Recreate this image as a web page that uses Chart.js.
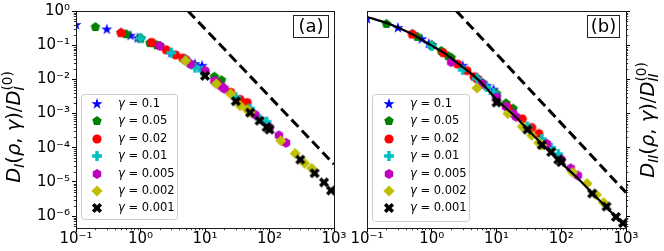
<!DOCTYPE html>
<html>
<head>
<meta charset="utf-8">
<script src="https://cdn.jsdelivr.net/npm/chart.js@4.4.1/dist/chart.umd.min.js"></script>
<style>
  html, body { margin: 0; padding: 0; background: #fff; }
  #wrap { position: relative; width: 664px; height: 251px; overflow: hidden; }
  #wrap canvas { position: absolute; left: 0; top: 0; }
</style>
</head>
<body>
<div id="wrap">
  <canvas id="chartA" width="664" height="251" style="width:664px;height:251px"></canvas>
  <canvas id="chartB" width="664" height="251" style="width:664px;height:251px"></canvas>
</div>
<script>
// x = rho / gamma for every gamma series
const xG01   = [0.1, 0.3, 0.5, 0.7, 0.9, 1, 3, 5, 7, 9];
const xG005  = [0.2, 0.6, 1, 1.4, 1.8, 2, 6, 10, 14, 18];
const xG002  = [0.5, 1.5, 2.5, 3.5, 4.5, 5, 15, 25, 35, 45];
const xG001  = [1, 3, 5, 7, 9, 10, 30, 50, 70, 90];
const xG0005 = [2, 6, 10, 14, 18, 20, 60, 100, 140, 180];
const xG0002 = [5, 15, 25, 35, 45, 50, 150, 250, 350, 450];
const xG0001 = [10, 30, 50, 70, 90, 100, 300, 500, 700, 900];

// panel (a): D_I / D_I^(0)
const aG01   = [0.39, 0.29, 0.23, 0.19, 0.16, 0.155, 0.06, 0.038, 0.028, 0.025];
const aG005  = [0.34, 0.21, 0.16, 0.115, 0.1, 0.095, 0.028, 0.017, 0.012, 0.0095];
const aG002  = [0.23, 0.12, 0.073, 0.052, 0.042, 0.038, 0.008, 0.0042, 0.0026, 0.0021];
const aG001  = [0.16, 0.06, 0.036, 0.022, 0.018, 0.016, 0.003, 0.0014, 0.0007, 0.00058];
const aG0005 = [0.095, 0.028, 0.018, 0.009, 0.0062, 0.0053, 0.00093, 0.00039, 0.00023, 0.00014];
const aG0002 = [0.035, 0.0074, 0.0038, 0.0017, 0.0013, 0.0011, 0.00016, 0.000068, 0.000035, 0.000025];
const aG0001 = [0.0127, 0.0023, 0.00107, 0.00062, 0.0004, 0.00034, 0.000045, 0.000018, 0.0000097, 0.0000056];

// panel (b): D_II / D_II^(0)
const bG01   = [0.58, 0.32, 0.21, 0.15, 0.11, 0.1, 0.025, 0.011, 0.0065, 0.005];
const bG005  = [0.42, 0.175, 0.1, 0.068, 0.048, 0.043, 0.008, 0.0038, 0.002, 0.0014];
const bG002  = [0.21, 0.06, 0.028, 0.018, 0.012, 0.0105, 0.0015, 0.0007, 0.00039, 0.00026];
const bG001  = [0.095, 0.019, 0.0105, 0.006, 0.004, 0.0033, 0.00042, 0.00018, 0.0001, 0.000065];
const bG0005 = [0.032, 0.0075, 0.003, 0.0016, 0.001, 0.00081, 0.00013, 0.000045, 0.000025, 0.0000155];
const bG0002 = [0.0056, 0.001, 0.00042, 0.00023, 0.00014, 0.00012, 0.000019, 0.000009, 0.0000042, 0.0000025];
const bG0001 = [0.0021, 0.00034, 0.00012, 0.000075, 0.000045, 0.000038, 0.0000046, 0.0000019, 0.00000095, 0.00000063];

// solid theory curve in (b)
const curveX = [0.1, 0.2, 0.3, 0.5, 0.7, 1, 1.5, 2, 3, 5, 7, 10, 20, 30, 50, 70, 100, 200, 300, 500, 700, 1000];
const curveY = [0.67, 0.45, 0.33, 0.21, 0.145, 0.097, 0.062, 0.042, 0.023, 0.0105, 0.0055, 0.0026, 0.00078, 0.00035, 0.00013, 0.000068, 0.000036, 0.0000105, 0.0000047, 0.0000018, 0.00000093, 0.0000005];

// dashed guide lines
const dashAX = [5.45, 1000];
const dashAY = [1, 0.000033];
const dashBX = [2.4, 1000];
const dashBY = [1, 0.0000049];

const gammaLabels = ['0.1', '0.05', '0.02', '0.01', '0.005', '0.002', '0.001'];
const xTickValues = [0.1, 1, 10, 100, 1000];
const xTickLabels = ['10⁻¹', '10⁰', '10¹', '10²', '10³'];
const yTickValues = [1e-6, 1e-5, 1e-4, 1e-3, 1e-2, 1e-1, 1];
const yTickLabels = ['10⁻⁶', '10⁻⁵', '10⁻⁴', '10⁻³', '10⁻²', '10⁻¹', '10⁰'];

const FONT = 'DejaVu Sans';
Chart.defaults.font.family = FONT;
Chart.defaults.color = '#000';

const colors = ['#0000ff', '#008000', '#ff0000', '#00bfbf', '#bf00bf', '#bfbf00', '#000000'];
const shapes = ['star', 'pentagon', 'circle', 'plus', 'hexagon', 'diamond', 'x'];

function poly(g, n, r, rot) {
  for (let i = 0; i < n; i++) {
    const a = rot + i * 2 * Math.PI / n;
    i ? g.lineTo(r * Math.cos(a), r * Math.sin(a)) : g.moveTo(r * Math.cos(a), r * Math.sin(a));
  }
}

function crossPath(g, L, w) {
  g.moveTo(-w, -L); g.lineTo(w, -L); g.lineTo(w, -w); g.lineTo(L, -w); g.lineTo(L, w);
  g.lineTo(w, w); g.lineTo(w, L); g.lineTo(-w, L); g.lineTo(-w, w); g.lineTo(-L, w);
  g.lineTo(-L, -w); g.lineTo(-w, -w);
}

function makeMarker(kind, color) {
  const s = 16;
  const c = document.createElement('canvas');
  c.width = s; c.height = s;
  const g = c.getContext('2d');
  g.translate(s / 2, s / 2);
  g.fillStyle = color;
  g.beginPath();
  if (kind === 'star') {
    for (let i = 0; i < 10; i++) {
      const r = i % 2 ? 2.3 : 5.9;
      const a = -Math.PI / 2 + i * Math.PI / 5;
      i ? g.lineTo(r * Math.cos(a), r * Math.sin(a)) : g.moveTo(r * Math.cos(a), r * Math.sin(a));
    }
  } else if (kind === 'pentagon') {
    poly(g, 5, 5, -Math.PI / 2);
  } else if (kind === 'circle') {
    g.arc(0, 0, 4.6, 0, 2 * Math.PI);
  } else if (kind === 'hexagon') {
    poly(g, 6, 4.9, -Math.PI / 2);
  } else if (kind === 'diamond') {
    poly(g, 4, 5.6, -Math.PI / 2);
  } else if (kind === 'plus') {
    crossPath(g, 4.9, 1.7);
  } else if (kind === 'x') {
    g.rotate(Math.PI / 4);
    crossPath(g, 5.4, 1.8);
  }
  g.closePath();
  g.fill();
  return c;
}

const markers = shapes.map((k, i) => makeMarker(k, colors[i]));

function pts(xs, ys) { return xs.map((x, i) => ({ x: x, y: ys[i] })); }

// rich text (mathtext-like) helpers
function segFont(s, F) {
  const size = (s.sub || s.sup) ? F * 0.7 : F;
  return (s.it ? 'italic ' : '') + size + 'px "' + FONT + '"';
}
function richWidth(ctx, segs, F) {
  let w = 0;
  segs.forEach(s => { ctx.font = segFont(s, F); if (!s.noAdv) w += ctx.measureText(s.t).width; });
  return w;
}
function drawRich(ctx, segs, F, x, y) {
  let cx = x;
  segs.forEach(s => {
    ctx.font = segFont(s, F);
    const dy = s.sub ? F * 0.22 : (s.sup ? -F * 0.42 : 0);
    ctx.fillText(s.t, cx, y + dy);
    if (!s.noAdv) cx += ctx.measureText(s.t).width;
  });
}

function titleSegs(idx) {
  return [
    { t: 'D', it: true }, { t: idx, it: true, sub: true },
    { t: '(' }, { t: 'ρ', it: true }, { t: ', ' }, { t: 'γ', it: true }, { t: ')/' },
    { t: 'D', it: true }, { t: idx, it: true, sub: true, noAdv: true }, { t: '(0)', sup: true }
  ];
}

const decorPlugin = {
  id: 'decor',
  afterDraw(chart, args, o) {
    const ctx = chart.ctx, ca = chart.chartArea;
    const xs = chart.scales.x, ys = chart.scales.y;
    ctx.save();
    // minor ticks
    ctx.strokeStyle = '#000';
    ctx.lineWidth = 0.8;
    for (let d = -1; d < 3; d++) {
      for (let k = 2; k < 10; k++) {
        const px = Math.round(xs.getPixelForValue(k * Math.pow(10, d))) + 0.5;
        ctx.beginPath(); ctx.moveTo(px, ca.bottom); ctx.lineTo(px, ca.bottom + 2.2); ctx.stroke();
      }
    }
    for (let d = -7; d < 0; d++) {
      for (let k = 2; k < 10; k++) {
        const v = k * Math.pow(10, d);
        if (v < ys.min || v > ys.max) continue;
        const py = Math.round(ys.getPixelForValue(v)) + 0.5;
        const x0 = o.side === 'left' ? ca.left : ca.right;
        const dir = o.side === 'left' ? -1 : 1;
        ctx.beginPath(); ctx.moveTo(x0, py); ctx.lineTo(x0 + dir * 2.2, py); ctx.stroke();
      }
    }
    // frame
    ctx.strokeStyle = '#1a1a1a';
    ctx.lineWidth = 1;
    ctx.strokeRect(Math.round(ca.left) + 0.5, Math.round(ca.top) + 0.5,
      Math.round(ca.right - ca.left), Math.round(ca.bottom - ca.top));

    // legend
    const L = o.legend;
    ctx.beginPath();
    ctx.roundRect(L.x + 0.5, L.y + 0.5, L.w, L.h, 3);
    ctx.fillStyle = 'rgba(255,255,255,0.85)';
    ctx.fill();
    ctx.strokeStyle = '#cccccc';
    ctx.stroke();
    ctx.textBaseline = 'middle';
    ctx.fillStyle = '#000';
    gammaLabels.forEach((lab, i) => {
      const y = L.row0 + i * L.dy;
      ctx.drawImage(markers[i], Math.round(L.mx - 8), Math.round(y - 8));
      ctx.font = 'italic 11.5px "' + FONT + '"';
      ctx.fillText('γ', L.tx, y);
      const gw = ctx.measureText('γ').width;
      ctx.font = '11.5px "' + FONT + '"';
      ctx.fillText(' = ' + lab, L.tx + gw, y);
    });

    // panel tag
    const P = o.tag;
    ctx.fillStyle = '#fff';
    ctx.fillRect(P.x, P.y, P.w, P.h);
    ctx.strokeStyle = '#222';
    ctx.strokeRect(P.x + 0.5, P.y + 0.5, P.w, P.h);
    ctx.fillStyle = '#000';
    ctx.font = '18px "' + FONT + '"';
    ctx.textAlign = 'center';
    ctx.textBaseline = 'middle';
    ctx.fillText(P.text, P.x + P.w / 2 + 0.5, P.y + P.h / 2 + 1);

    // y title
    const T = o.title;
    const segs = titleSegs(T.idx);
    ctx.textAlign = 'left';
    ctx.textBaseline = 'alphabetic';
    const w = richWidth(ctx, segs, T.size);
    ctx.translate(T.cx, T.cy);
    ctx.rotate(-Math.PI / 2);
    drawRich(ctx, segs, T.size, -w / 2, T.size * 0.36);
    ctx.restore();
  }
};

function markerSets(xsList, ysList) {
  return xsList.map((xs, i) => ({
    label: 'γ = ' + gammaLabels[i],
    data: pts(xs, ysList[i]),
    showLine: false,
    pointStyle: markers[i],
    pointRadius: 5,
    order: 10 - i
  }));
}

const xList = [xG01, xG005, xG002, xG001, xG0005, xG0002, xG0001];

function makeChart(id, panel) {
  const isA = panel === 'a';
  const ySets = isA ? [aG01, aG005, aG002, aG001, aG0005, aG0002, aG0001]
                    : [bG01, bG005, bG002, bG001, bG0005, bG0002, bG0001];
  const datasets = markerSets(xList, ySets);
  datasets.push({
    label: 'slope -2',
    data: pts(isA ? dashAX : dashBX, isA ? dashAY : dashBY),
    showLine: true, pointRadius: 0, borderColor: '#000', borderWidth: 3,
    borderDash: [10, 5], order: 20
  });
  if (!isA) {
    datasets.push({
      label: 'theory',
      data: pts(curveX, curveY),
      showLine: true, pointRadius: 0, borderColor: '#000', borderWidth: 2.2,
      cubicInterpolationMode: 'monotone', order: 3.5
    });
  }
  return new Chart(document.getElementById(id), {
    type: 'scatter',
    data: { datasets: datasets },
    options: {
      responsive: false,
      animation: false,
      devicePixelRatio: 1,
      layout: { padding: isA ? { left: 0, right: 330, top: 10, bottom: 0 }
                             : { left: 367, right: 0, top: 10, bottom: 0 } },
      plugins: {
        legend: { display: false },
        tooltip: { enabled: false },
        decor: {
          side: isA ? 'left' : 'right',
          legend: isA ? { x: 81, y: 94, w: 96, h: 125, row0: 104, dy: 17.4, mx: 97, tx: 118 }
                      : { x: 372, y: 94, w: 97, h: 127, row0: 104, dy: 17.4, mx: 389, tx: 410 },
          tag: isA ? { x: 293, y: 15, w: 35, h: 22, text: '(a)' }
                   : { x: 587, y: 15, w: 32, h: 22, text: '(b)' },
          title: isA ? { idx: 'I', cx: 13, cy: 127, size: 19.5 }
                     : { idx: 'II', cx: 647, cy: 120, size: 19.5 }
        }
      },
      scales: {
        x: {
          type: 'logarithmic', min: 0.1, max: 1000,
          afterBuildTicks: s => { s.ticks = xTickValues.map(v => ({ value: v })); },
          afterFit: s => { s.height = 23; },
          ticks: {
            autoSkip: false, maxRotation: 0, padding: -2,
            font: { size: 15 },
            callback: (v, i) => xTickLabels[i]
          },
          grid: { drawOnChartArea: false, tickLength: 4, color: '#000' },
          border: { display: true, color: '#000', width: 1 }
        },
        y: {
          type: 'logarithmic', min: 4.5e-7, max: 1,
          position: isA ? 'left' : 'right',
          afterBuildTicks: s => { s.ticks = yTickValues.map(v => ({ value: v })); },
          afterFit: s => { s.width = isA ? 76 : 38; },
          ticks: {
            autoSkip: false, padding: 2,
            font: { size: 15 },
            callback: (v, i) => isA ? yTickLabels[i] : ''
          },
          grid: { drawOnChartArea: false, tickLength: 4, color: '#000' },
          border: { display: true, color: '#000', width: 1 }
        }
      }
    },
    plugins: [decorPlugin]
  });
}

makeChart('chartA', 'a');
makeChart('chartB', 'b');
</script>
</body>
</html>
